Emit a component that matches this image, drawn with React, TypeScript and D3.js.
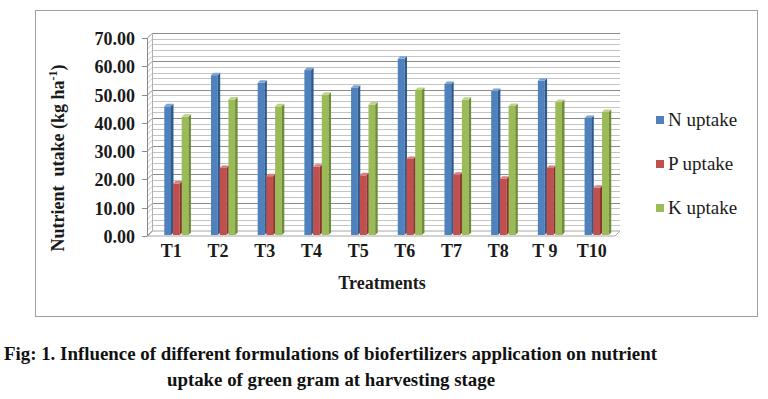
import * as React from 'react';
import {Component} from 'react';
import * as d3 from 'd3';

const categories = ['T1', 'T2', 'T3', 'T4', 'T5', 'T6', 'T7', 'T8', 'T 9', 'T10'];
const seriesNames = ['N uptake', 'P uptake', 'K uptake'];
const nUptake = [45.5, 56.5, 53.8, 58.3, 52.1, 62.3, 53.4, 50.9, 54.5, 41.4];
const pUptake = [18.2, 23.7, 20.8, 24.1, 21.1, 26.9, 21.3, 19.9, 23.7, 16.7];
const kUptake = [41.8, 47.9, 45.5, 49.6, 46.1, 51.3, 47.8, 45.6, 47.0, 43.5];
const yTicks = [0, 10, 20, 30, 40, 50, 60, 70];

const faceColors = ['#4f81bd', '#c0504d', '#9bbb59'];
const sideColors = ['#2f5a8e', '#8c3431', '#6f8c37'];
const topColors = ['#7ea3d4', '#d8807e', '#bcd58a'];
const serif = 'Liberation Serif, DejaVu Serif, serif';

class UptakeChart extends Component {
    ref = React.createRef<SVGSVGElement>();

    componentDidMount() {
        this.drawChart();
    }

    drawChart() {
        const svg = d3.select(this.ref.current);
        svg.selectAll('*').remove();

        const depth = {x: 5, y: -5};
        const left = 147, right = 615, bottom = 236, top = 38;

        const yScale = d3.scaleLinear().domain([0, 70]).range([bottom, top]);
        const xScale = d3.scaleBand<string>()
            .domain(categories)
            .range([left + depth.x + 1, right + depth.x])
            .paddingInner(0.44)
            .paddingOuter(0.22);
        const sScale = d3.scaleBand<number>()
            .domain([0, 1, 2])
            .range([0, xScale.bandwidth()]);

        // outer frame
        svg.append('rect')
            .attr('x', 35.5).attr('y', 10.5)
            .attr('width', 722).attr('height', 306)
            .attr('fill', 'white').attr('stroke', '#a0a0a0');

        // floor
        svg.append('polygon')
            .attr('points', [[left, bottom], [left + depth.x, bottom + depth.y],
                [right + depth.x, bottom + depth.y], [right, bottom]].join(' '))
            .attr('fill', 'white').attr('stroke', '#a6a6a6');

        // gridlines: side wall + back wall
        const grid = d3.range(0, 70.01, 2);
        const g = svg.append('g');
        grid.forEach(v => {
            const y = Math.round(yScale(v)) + 0.5;
            const major = v % 10 === 0;
            const col = major ? '#8a8a8a' : '#c4c4c4';
            g.append('line')
                .attr('x1', left).attr('y1', y)
                .attr('x2', left + depth.x).attr('y2', y + depth.y)
                .attr('stroke', col);
            if (v > 0) {
                g.append('line')
                    .attr('x1', left + depth.x).attr('y1', y + depth.y)
                    .attr('x2', right + depth.x).attr('y2', y + depth.y)
                    .attr('stroke', col);
            }
        });
        g.append('line')
            .attr('x1', left + 0.5).attr('y1', top).attr('x2', left + 0.5).attr('y2', bottom)
            .attr('stroke', '#8a8a8a');
        g.append('line')
            .attr('x1', left + depth.x + 0.5).attr('y1', top + depth.y)
            .attr('x2', left + depth.x + 0.5).attr('y2', bottom + depth.y)
            .attr('stroke', '#b0b0b0');

        // y ticks + labels
        yTicks.forEach(v => {
            const y = Math.round(yScale(v)) + 0.5;
            svg.append('line')
                .attr('x1', left - 5).attr('y1', y).attr('x2', left).attr('y2', y)
                .attr('stroke', '#8a8a8a');
            svg.append('text')
                .attr('x', 135).attr('y', y + 6)
                .attr('text-anchor', 'end')
                .style('font-family', serif).attr('font-weight', 'bold')
                .attr('font-size', 18).attr('fill', '#1a1a1a')
                .text(d3.format('.2f')(v));
        });

        // bars
        const data = [nUptake, pUptake, kUptake];
        const off = {x: 1, y: -1};
        const d = 2.5;
        categories.forEach((c, i) => {
            data.forEach((vals, s) => {
                const x = (xScale(c) as number) + (sScale(s) as number) + off.x;
                const w = sScale.bandwidth() - 2;
                const y0 = yScale(0) + off.y;
                const y1 = yScale(vals[i]) + off.y;
                svg.append('rect')
                    .attr('x', x).attr('y', y1)
                    .attr('width', w).attr('height', y0 - y1)
                    .attr('fill', faceColors[s]);
                svg.append('polygon')
                    .attr('points', [[x + w, y1], [x + w + d, y1 - d], [x + w + d, y0 - d], [x + w, y0]].join(' '))
                    .attr('fill', sideColors[s]);
                svg.append('polygon')
                    .attr('points', [[x, y1], [x + d, y1 - d], [x + w + d, y1 - d], [x + w, y1]].join(' '))
                    .attr('fill', topColors[s]);
            });
        });

        // x labels
        categories.forEach(c => {
            svg.append('text')
                .attr('x', (xScale(c) as number) + xScale.bandwidth() / 2 - 5)
                .attr('y', 257)
                .attr('text-anchor', 'middle')
                .style('font-family', serif).attr('font-weight', 'bold')
                .attr('font-size', 18).attr('fill', '#1a1a1a')
                .text(c);
        });

        svg.append('text')
            .attr('x', 382).attr('y', 289)
            .attr('text-anchor', 'middle')
            .style('font-family', serif).attr('font-weight', 'bold')
            .attr('font-size', 18).attr('fill', '#1a1a1a')
            .text('Treatments');

        const yTitle = svg.append('text')
            .attr('transform', 'translate(64,158) rotate(-90)')
            .attr('text-anchor', 'middle')
            .style('font-family', serif).attr('font-weight', 'bold')
            .attr('font-size', 18).attr('fill', '#1a1a1a')
            .style('white-space', 'pre');
        yTitle.append('tspan').text('Nutrient  utake (kg ha');
        yTitle.append('tspan').attr('font-size', 12).attr('dy', -7).text('-1');
        yTitle.append('tspan').attr('dy', 7).text(')');

        // legend
        seriesNames.forEach((name, s) => {
            const cy = 120 + s * 44;
            svg.append('rect')
                .attr('x', 656).attr('y', cy - 4)
                .attr('width', 8).attr('height', 8)
                .attr('fill', faceColors[s]);
            svg.append('text')
                .attr('x', 668).attr('y', cy + 6)
                .style('font-family', serif)
                .attr('font-size', 19).attr('fill', '#1a1a1a')
                .text(name);
        });

        // caption
        const cap = [
            {text: 'Fig: 1. Influence of different formulations of biofertilizers application on nutrient', x: 4, y: 360, len: 653},
            {text: 'uptake of green gram at harvesting stage', x: 167, y: 386, len: 328},
        ];
        cap.forEach(l => {
            svg.append('text')
                .attr('x', l.x).attr('y', l.y)
                .attr('textLength', l.len).attr('lengthAdjust', 'spacingAndGlyphs')
                .style('font-family', serif).attr('font-weight', 'bold')
                .attr('font-size', 18).attr('fill', '#111')
                .text(l.text);
        });
    }

    render(): React.ReactNode {
        return (
            <svg ref={this.ref} width={768} height={399}
                style={{position: 'absolute', left: 0, top: 0, background: 'white'}} />
        );
    }
}

export default function App() {
    return <UptakeChart />;
}
